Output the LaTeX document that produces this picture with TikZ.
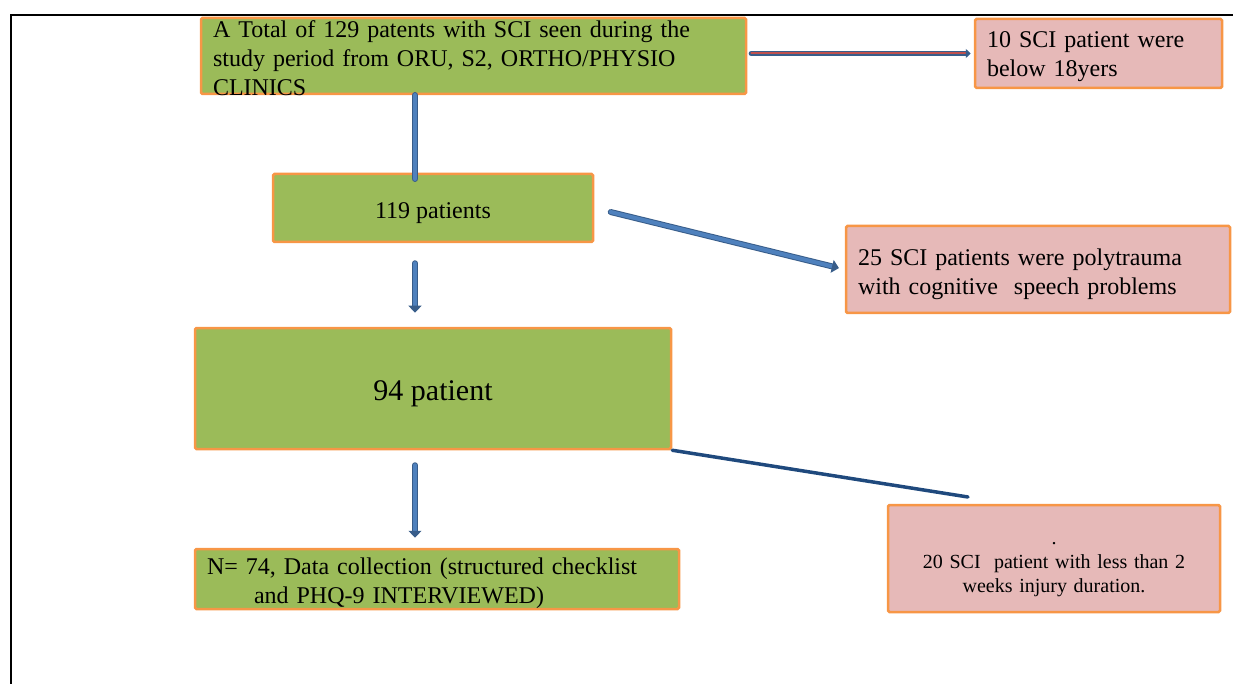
\documentclass[tikz,border=0pt]{standalone}
\usepackage{fontspec}
\setmainfont{Liberation Serif}
\usetikzlibrary{arrows.meta, positioning}

\definecolor{boxgreen}{HTML}{9BBB59}
\definecolor{boxpink}{HTML}{E6B9B8}
\definecolor{boxedge}{HTML}{F79646}
\definecolor{arrowfill}{HTML}{4F81BD}
\definecolor{arrowedge}{HTML}{385D8A}
\definecolor{arrowred}{HTML}{C0504D}
\definecolor{linkblue}{HTML}{1F497D}

\begin{document}
\begin{tikzpicture}[x=1pt, y=-1pt,
        greenbox/.style={draw=boxedge, fill=boxgreen, line width=2.5pt, rounded corners=1.5pt, inner xsep=12pt, inner ysep=0pt, font=\fontsize{24}{29}\selectfont},
        pinkbox/.style={greenbox, fill=boxpink},
        blockarrow/.style={draw=arrowedge, double=arrowfill, double distance=4pt, line width=1pt, line cap=round, -{Triangle[width=13pt, length=7pt]}},
        redarrow/.style={draw=arrowedge, double=arrowred, double distance=2pt, line width=1.6pt, line cap=round, -{Triangle[width=9pt, length=5pt]}},
        thinlink/.style={draw=linkblue, line width=3.5pt, line cap=round}
    ]
    % MARGINS
    \useasboundingbox (0,0) rectangle (1233,684);
    \def\spineX{415}

    % FRAME
    \draw[line width=2pt] (11,684) -- (11,15) -- (1233,15);

    % LEFT COLUMN
    \node[greenbox, minimum width=545, minimum height=76, text width=521, align=left, text height=19pt, text depth=56pt] (total) at (473.5,56)
        {A Total of 129 patents with SCI seen during the\\study period from ORU, S2, ORTHO/PHYSIO\\CLINICS};
    \node[greenbox, minimum width=320, minimum height=68, text height=26.5pt] (first) at (433,208) {119 patients};
    \node[greenbox, minimum width=476, minimum height=121, text height=30.5pt, font=\fontsize{30}{36}\selectfont] (second) at (433,388.5) {94 patient};
    \node[greenbox, minimum width=484, minimum height=60, text width=460, align=left, text height=25pt] (final) at (437,579)
        {N= 74, Data collection (structured checklist\\\hspace*{47pt}and PHQ-9 INTERVIEWED)};

    % RIGHT COLUMN
    \node[pinkbox, minimum width=247, minimum height=69, text width=223, align=left, text height=23pt] (under) at (1098.5,53.5)
        {10 SCI patient were\\below 18yers};
    \node[pinkbox, minimum width=384, minimum height=87, text width=360, align=left, text height=27pt] (poly) at (1038,269.5)
        {25 SCI patients were polytrauma\\with cognitive\ \ speech problems};
    \node[pinkbox, minimum width=332, minimum height=107, text width=308, align=center, text height=24pt, font=\fontsize{20}{24}\selectfont] (recent) at (1054,558.5)
        {.\\20 SCI\ \ patient with less than 2\\weeks injury duration.};
    \coordinate (linkend) at (968,497);

    % ARROWS
    \draw[redarrow, shorten <=4pt, shorten >=3pt] (total.east |- under.west) -- (under.west);
    \draw[draw=arrowedge, double=arrowfill, double distance=4.5pt, line width=1pt, line cap=round]
        (total.south -| \spineX,0) -- ([yshift=-6pt]first.north -| \spineX,0);
    \draw[blockarrow] ([yshift=-20pt]first.south -| \spineX,0) -- ([yshift=14pt]second.north -| \spineX,0);
    \draw[blockarrow, shorten <=17pt, shorten >=6pt] (first.east) -- (poly.west);
    \draw[blockarrow] ([yshift=-15pt]second.south -| \spineX,0) -- ([yshift=10pt]final.north -| \spineX,0);
    \draw[thinlink] (second.south east) -- (linkend);
\end{tikzpicture}
\end{document}
